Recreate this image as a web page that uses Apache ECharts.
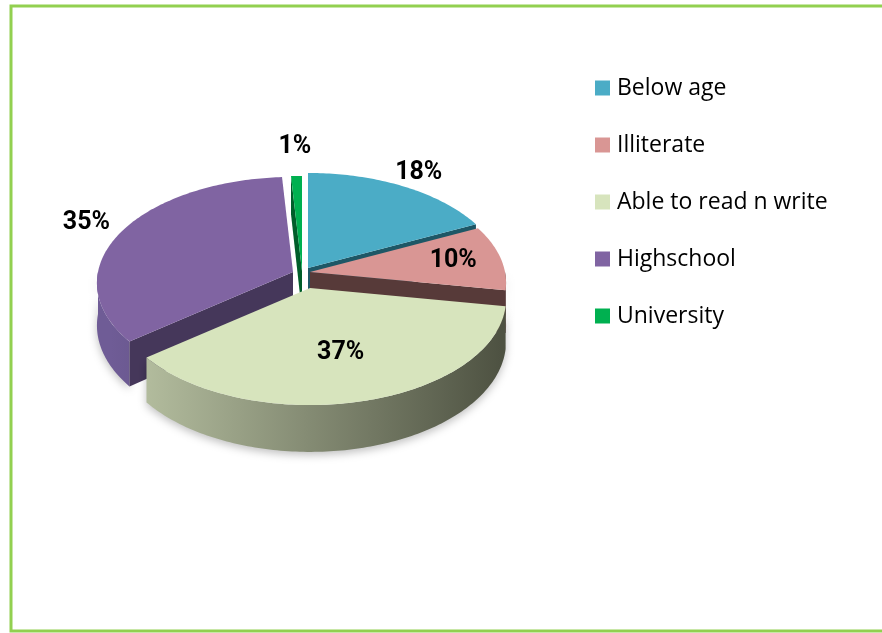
<!DOCTYPE html>
<html><head><meta charset="utf-8">
<script src="https://cdn.jsdelivr.net/npm/echarts@6/dist/echarts.min.js"></script>
<style>html,body{margin:0;padding:0;background:#fff}#c{width:882px;height:633px}</style>
</head><body><div id="c"></div>
<script>
// ---- data ----
const categories = ['Below age', 'Illiterate', 'Able to read n write', 'Highschool', 'University'];
const values = [18, 10, 37, 35, 1];
const labelTexts = ['18%', '10%', '37%', '35%', '1%'];

// ---- styles ----
const topColors = ['#4BACC6', '#D99694', '#D7E4BD', '#8064A2', '#00B050'];
const cutColors = ['#1E5766', '#573A39', '#7E866A', '#45375A', '#005E2A'];
const sideStops = [
  ['#3F94AA', '#1C4F5C'],
  ['#B9807E', '#553837'],
  ['#BCC6A6', '#4E5242'],
  ['#6F5C96', '#2E2540'],
  ['#009A46', '#00471F']
];
const explodeOffsets = [[2, -5], [4, -1], [4, 15], [-13, -1], [-4, -2]];
const labelRadius = [1.18, 0.75, 0.6, 1.22, 1.35];

const CX = 306, CY = 273, RX = 195, RY = 104.9, K = 0.1037, D = 42;

const total = values.reduce((a, b) => a + b, 0);
const startA = [], endA = [];
let acc = 0;
values.forEach((v, i) => { startA.push(acc / total * 360); acc += v; endA.push(acc / total * 360); });
const midCos = values.map((v, i) => -Math.cos((startA[i] + endA[i]) / 2 * Math.PI / 180));
const order = values.map((v, i) => i).sort((a, b) => midCos[a] - midCos[b]);
const rank = []; order.forEach((idx, r) => rank[idx] = r);

function P(deg, r, bottom, off) {
  const t = deg * Math.PI / 180;
  const u = r * Math.sin(t), v = -r * Math.cos(t);
  const s = 1 / (1 - K * v);
  return [CX + RX * u * s + off[0], CY + RY * v * s + (bottom ? D * s : 0) + off[1]];
}
function arc(a0, a1, bottom, off) {
  const n = Math.max(2, Math.ceil((a1 - a0) / 1));
  const pts = [];
  for (let k = 0; k <= n; k++) pts.push(P(a0 + (a1 - a0) * k / n, 1, bottom, off));
  return pts;
}

function renderItem(params, api) {
  const i = params.dataIndex;
  const a0 = startA[i], a1 = endA[i], off = explodeOffsets[i];
  const z = rank[i] * 10;
  const children = [];
  const grad = new echarts.graphic.LinearGradient(CX - RX, 0, CX + RX, 0,
    [{ offset: 0, color: sideStops[i][0] }, { offset: 1, color: sideStops[i][1] }], true);
  const s0 = Math.max(a0, 90), s1 = Math.min(a1, 270);
  if (s1 > s0) {
    const topPts = arc(s0, s1, false, off);
    const botPts = arc(s0, s1, true, off).reverse();
    children.push({
      type: 'polygon', z2: z + 2,
      shape: { points: topPts.concat(botPts) },
      style: { fill: grad, shadowBlur: 8, shadowColor: 'rgba(0,0,0,0.25)', shadowOffsetY: 3 }
    });
  }
  const faces = [[a0, a0 - 90], [a1, a1 + 90]];
  faces.forEach(([phi, nrm]) => {
    if (Math.cos(nrm * Math.PI / 180) < -0.01) {
      children.push({
        type: 'polygon', z2: z + 3,
        shape: { points: [P(phi, 0, false, off), P(phi, 1, false, off), P(phi, 1, true, off), P(phi, 0, true, off)] },
        style: { fill: cutColors[i] }
      });
    }
  });
  const topFace = [P(a0, 0, false, off)].concat(arc(a0, a1, false, off));
  children.push({ type: 'polygon', z2: z + 5, shape: { points: topFace }, style: { fill: topColors[i] } });
  const mid = (a0 + a1) / 2;
  const lp = P(mid, labelRadius[i], false, off);
  children.push({
    type: 'text', z2: 1000,
    style: { text: labelTexts[i], x: lp[0], y: lp[1], align: 'center', verticalAlign: 'middle',
      font: 'bold 25px Roboto', fill: '#000' }
  });
  return { type: 'group', children };
}

const chart = echarts.init(document.getElementById('c'), null, { renderer: 'canvas' });
chart.setOption({
  animation: false,
  backgroundColor: '#fff',
  graphic: [{
    type: 'rect', shape: { x: 11, y: 6, width: 900, height: 625 },
    style: { fill: 'none', stroke: '#92D050', lineWidth: 3 }, silent: true
  }],
  legend: {
    data: categories, orient: 'vertical', left: 595, top: 76, padding: 0,
    itemWidth: 15, itemHeight: 15, itemGap: 33, icon: 'rect', selectedMode: false,
    textStyle: { fontSize: 23, fontFamily: 'Open Sans', color: '#000', lineHeight: 24, padding: [0, 0, 0, 2] }
  },
  series: [
    {
      type: 'pie', name: 'legendPie', radius: 0, center: [-200, -200], silent: true,
      label: { show: false }, labelLine: { show: false },
      data: categories.map((c, i) => ({ name: c, value: values[i], itemStyle: { color: topColors[i] } }))
    },
    {
      type: 'custom', name: 'pie3d', coordinateSystem: 'none',
      renderItem: renderItem,
      data: values.map((v, i) => [v, i])
    }
  ]
});
</script></body></html>
